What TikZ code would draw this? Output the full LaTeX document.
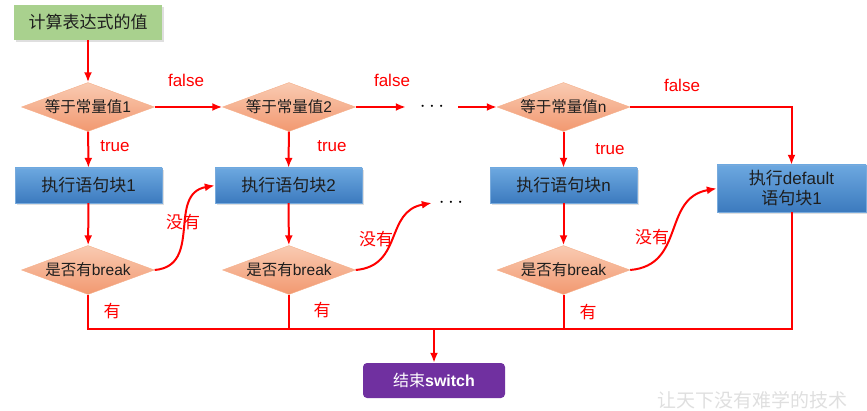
\documentclass[tikz,border=0pt]{standalone}
\usepackage{fontspec}
\setmainfont{Liberation Sans}
\newfontfamily\cjk{Noto Sans CJK SC}
\usetikzlibrary{arrows.meta}
\usetikzlibrary{shapes}
\usetikzlibrary{shadows}
\definecolor{condtop}{RGB}{249,203,178}
\definecolor{condbot}{RGB}{242,152,112}
\definecolor{condline}{RGB}{245,175,138}
\definecolor{blocktop}{RGB}{108,168,224}
\definecolor{blockbot}{RGB}{60,122,190}
\definecolor{blockline}{RGB}{120,170,220}
\definecolor{startfill}{RGB}{169,209,142}
\definecolor{endfill}{RGB}{112,48,160}
\definecolor{txt}{RGB}{30,30,30}
\tikzset{
  cond/.style={diamond,aspect=2.7,inner sep=0pt,minimum width=133pt,minimum height=49pt,
    draw=condline,top color=condtop,bottom color=condbot,text=txt,font=\fontsize{15.5}{17}\selectfont},
  block/.style={rectangle,minimum width=147pt,minimum height=35pt,draw=blockline,
    top color=blocktop,bottom color=blockbot,text=txt,font=\fontsize{17}{20}\selectfont,
    drop shadow={opacity=0.25,shadow xshift=1.5pt,shadow yshift=-2pt}},
  link/.style={->,red,line width=2pt},
  bus/.style={red,line width=2pt},
  lbl/.style={red,font=\fontsize{17}{19}\selectfont},
  cnlbl/.style={red,font=\cjk\fontsize{17}{19}\selectfont},
  dots/.style={inner sep=0pt,font=\fontsize{22}{22}\selectfont}
}
\begin{document}
\begin{tikzpicture}[x=1pt,y=-1pt,line join=miter,>={Latex[length=10pt,width=8pt]}]
\useasboundingbox (0,0) rectangle (867,411);

% start and end
\node[rectangle,minimum width=148pt,minimum height=35pt,fill=startfill,text=txt,
  font=\cjk\fontsize{17}{20}\selectfont,
  drop shadow={opacity=0.25,shadow xshift=1.5pt,shadow yshift=-2pt}] (start) at (88,22.5) {计算表达式的值};
\node[rectangle,rounded corners=4pt,minimum width=142pt,minimum height=35pt,fill=endfill,text=white,
  font=\fontsize{16}{18}\selectfont] (stop) at (434,380.5) {{\cjk 结束}\textbf{switch}};

% conditions
\node[cond] (c1) at (88,107) {{\cjk 等于常量值}1};
\node[cond] (c2) at (289,107) {{\cjk 等于常量值}2};
\node[cond] (cn) at (563.5,107) {{\cjk 等于常量值}n};
\node[dots,minimum width=52pt] (dots1) at (432,107) {$\cdots$};

% statement blocks
\node[block] (b1) at (88.5,185.5) {{\cjk 执行语句块}1};
\node[block] (b2) at (288.5,185.5) {{\cjk 执行语句块}2};
\node[block] (bn) at (563.5,185.5) {{\cjk 执行语句块}n};
\node[block,minimum width=149pt,minimum height=47pt,align=center,inner sep=1pt] (dflt) at (791.5,188.5)
  {{\cjk 执行}default\\{\cjk 语句块}1};
\node[dots,minimum width=38pt] (dots2) at (451,203) {$\cdots$};

% break tests
\node[cond] (k1) at (88,270) {{\cjk 是否有}break};
\node[cond] (k2) at (289,270) {{\cjk 是否有}break};
\node[cond] (kn) at (563.5,270) {{\cjk 是否有}break};

\coordinate (jn) at (434,329);

\draw[link] (start) -- (c1);
\draw[link] (c1) -- (c2);
\draw[link] (c2) -- (dots1);
\draw[link] (dots1) -- (cn);
\draw[link] (cn.east) -| (dflt.north);

\draw[link] (c1) -- (b1);
\draw[link] (c2) -- (b2);
\draw[link] (cn) -- (bn);
\draw[link] (b1) -- (k1);
\draw[link] (b2) -- (k2);
\draw[link] (bn) -- (kn);

\draw[link] (k1.east) to[out=5,in=190,looseness=1.2] (b2.west);
\draw[link] (k2.east) to[out=5,in=190,looseness=1.2] (dots2.west);
\draw[link] (kn.east) to[out=5,in=190,looseness=1.2] (dflt.west);

\draw[bus] (k1.south) -- (k1.south |- jn) -- (dflt.south |- jn) -- (dflt.south);
\draw[bus] (k2.south) -- (k2.south |- jn);
\draw[bus] (kn.south) -- (kn.south |- jn);
\draw[link] (jn) -- (stop.north);

% labels
\node[lbl] (f1) at (186,80) {false};
\node[lbl] (f2) at (392,80) {false};
\node[lbl] (f3) at (682,85) {false};
\node[lbl] (t1) at (115,146) {true};
\node[lbl] (t2) at (332,146) {true};
\node[lbl] (t3) at (610,149) {true};
\node[cnlbl] (n1) at (183,222) {没有};
\node[cnlbl] (n2) at (376,239) {没有};
\node[cnlbl] (n3) at (652,237) {没有};
\node[cnlbl] (y1) at (112,311) {有};
\node[cnlbl] (y2) at (322,310) {有};
\node[cnlbl] (y3) at (588,312) {有};

\node[text=gray!25,font=\cjk\fontsize{19}{21}\selectfont] (mark) at (752,400) {让天下没有难学的技术};
\end{tikzpicture}
\end{document}
